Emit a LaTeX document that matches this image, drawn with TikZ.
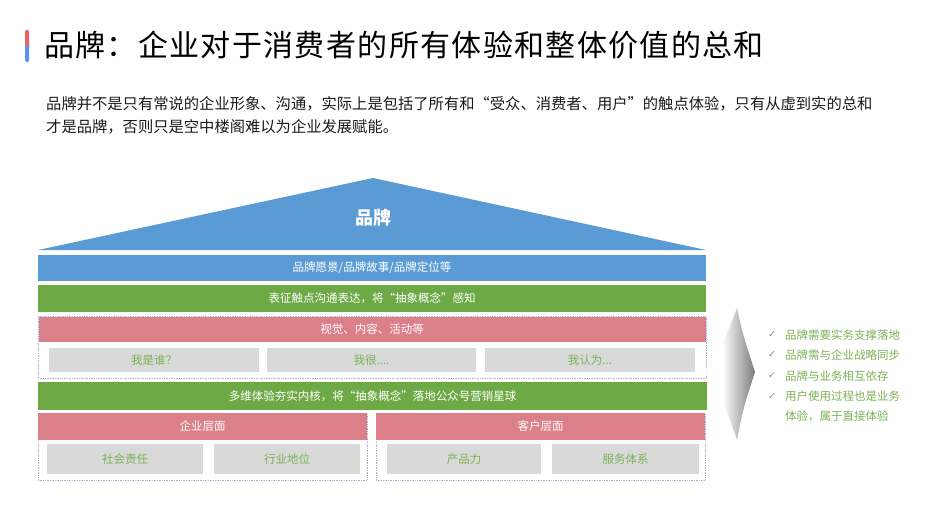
\documentclass[tikz,border=0pt]{standalone}
\usepackage{fontspec}
\setmainfont{Noto Sans CJK SC}
\newfontfamily\dejavu{DejaVu Sans}
\definecolor{cblue}{HTML}{5B9BD5}
\definecolor{cgreen}{HTML}{6DAA46}
\definecolor{cpink}{HTML}{DB7F88}
\definecolor{cgray}{HTML}{D9D9D9}
\definecolor{ctext}{HTML}{7BB257}
\definecolor{cframe}{HTML}{A3B4D3}
\definecolor{cred}{HTML}{E56464}
\definecolor{cbar}{HTML}{5B8FF0}
\definecolor{cdark}{HTML}{1A1A1A}
\definecolor{ccheck}{HTML}{6F9A55}
\pgfdeclarehorizontalshading{arrowfade}{100bp}{color(0bp)=(white); color(25bp)=(white); color(42bp)=(white); color(75bp)=(black!52); color(100bp)=(black!52)}
\tikzset{
  bar/.style 2 args={rectangle,inner sep=0pt,minimum width=#1pt,minimum height=#2pt,text=white,font=\fontsize{11.5}{13}\selectfont},
  cell/.style 2 args={rectangle,inner sep=0pt,minimum width=#1pt,minimum height=#2pt,fill=cgray,text=ctext,font=\fontsize{11.5}{13}\selectfont},
  frame/.style 2 args={rectangle,inner sep=0pt,minimum width=#1pt,minimum height=#2pt,draw=cframe,densely dotted,line width=0.7pt},
  para/.style={anchor=west,inner sep=0pt,text=cdark,font=\fontsize{15.3}{17}\selectfont},
  checkitem/.style={anchor=west,inner sep=0pt,text=ctext,font=\fontsize{11.5}{13}\selectfont},
  checkmark/.style={inner sep=0pt,text=ccheck,font=\dejavu\fontsize{9.5}{10}\selectfont},
}
\begin{document}
\begin{tikzpicture}[x=1pt,y=-1pt]
\useasboundingbox[fill=white] (0,0) rectangle (936,527);
% title
\fill[cred,rounded corners=1.5pt] (25,30) rectangle (29,50);
\fill[cbar,rounded corners=1.5pt] (25,42) rectangle (29,62);
\fill[cred] (25,38) rectangle (29,46);
\node[anchor=west,inner sep=0pt,text=black,font=\fontsize{30}{34}\selectfont\addfontfeatures{LetterSpace=4.5}] (title) at (44,45) {品牌：企业对于消费者的所有体验和整体价值的总和};
% paragraph
\node[para] (p1) at (46,104) {品牌并不是只有常说的企业形象、沟通，实际上是包括了所有和“受众、消费者、用户”的触点体验，只有从虚到实的总和};
\node[para] (p2) at (46,127) {才是品牌，否则只是空中楼阁难以为企业发展赋能。};
% roof
\coordinate (rl) at (38,250);
\coordinate (ra) at (373,178);
\coordinate (rr) at (706,250);
\fill[cblue] (rl) -- (ra) -- (rr) -- cycle;
\node[inner sep=0pt,text=white,font=\fontsize{18}{20}\selectfont\bfseries] (brand) at (373,218) {品牌};
% bands
\node[bar={668}{26},fill=cblue] (vision) at (372,268) {品牌愿景/品牌故事/品牌定位等};
\node[bar={668}{27},fill=cgreen] (touch) at (372,298.5) {表征触点沟通表达，将“抽象概念”感知};
\node[frame={668}{62}] (g1) at (372,347) {};
\node[bar={667}{25},fill=cpink] (visual) at (372,329.5) {视觉、内容、活动等};
\node[cell={210}{24}] (who) at (154,360) {我是谁？};
\node[cell={209}{24}] (very) at (371.5,360) {我很....};
\node[cell={210}{24}] (think) at (590,360) {我认为...};
\node[bar={669}{28},fill=cgreen] (core) at (372.5,396) {多维体验夯实内核，将“抽象概念”落地公众号营销星球};
\node[frame={329}{67}] (g2) at (202.5,446.5) {};
\node[bar={329}{27},fill=cpink] (ent) at (202.5,426.5) {企业层面};
\node[cell={156}{30}] (soc) at (125,459) {社会责任};
\node[cell={146}{30}] (ind) at (287,459) {行业地位};
\node[frame={329}{67}] (g3) at (540.5,446.5) {};
\node[bar={329}{27},fill=cpink] (cus) at (540.5,426.5) {客户层面};
\node[cell={154}{30}] (prod) at (464,459) {产品力};
\node[cell={147}{30}] (serv) at (625.5,459) {服务体系};
% arrow
\coordinate (at) at (737,308);
\coordinate (ak) at (755,372);
\coordinate (ab) at (737,440);
\coordinate (al) at (705,372);
\shade[shading=arrowfade] (at) .. controls (743,335) .. (ak) .. controls (743,409) .. (ab) .. controls (725,405) .. (al) .. controls (725,339) .. (at) -- cycle;
% checklist
\node[checkmark] (c1) at (772,335) {✓};
\node[checkitem] (t1) at (785,335) {品牌需要实务支撑落地};
\node[checkmark] (c2) at (772,355) {✓};
\node[checkitem] (t2) at (785,355) {品牌需与企业战略同步};
\node[checkmark] (c3) at (772,376) {✓};
\node[checkitem] (t3) at (785,376) {品牌与业务相互依存};
\node[checkmark] (c4) at (772,396.5) {✓};
\node[checkitem] (t4) at (785,396.5) {用户使用过程也是业务};
\node[checkitem] (t5) at (785,416.5) {体验，属于直接体验};
\end{tikzpicture}
\end{document}
